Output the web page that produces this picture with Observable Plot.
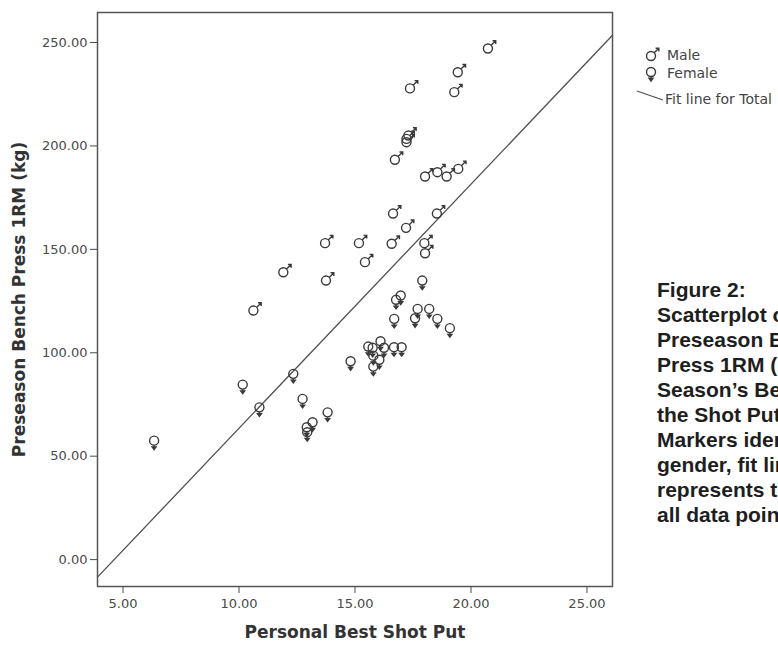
<!DOCTYPE html>
<html>
<head>
<meta charset="utf-8">
<script src="https://cdn.jsdelivr.net/npm/d3@7"></script>
<script src="https://cdn.jsdelivr.net/npm/@observablehq/plot@0.6"></script>
<style>
  html, body { margin: 0; padding: 0; background: #fff; }
  body { width: 778px; height: 645px; overflow: hidden; position: relative; }
  #chart { position: absolute; left: 0; top: 0; }
  #overlay { position: absolute; left: 0; top: 0; pointer-events: none; }
</style>
</head>
<body>
<div id="chart"></div>
<svg id="overlay" width="778" height="645"></svg>
<script>
// ---- data ----
const maleX = [20.73, 19.43, 19.28, 17.37, 17.30, 17.22, 17.22, 16.72, 18.02, 18.55, 18.95, 19.45,
               16.64, 18.53, 17.20, 13.71, 15.17, 16.58, 17.99, 18.02, 15.43, 11.91, 13.75, 10.62];
const maleY = [247.1, 235.6, 226.0, 227.8, 205.0, 203.4, 201.8, 193.3, 185.2, 187.3, 185.2, 188.9,
               167.3, 167.3, 160.4, 153.0, 153.0, 152.7, 153.0, 148.1, 143.8, 138.9, 134.9, 120.4];
const femaleX = [17.90, 16.77, 16.97, 16.69, 17.70, 17.59, 18.20, 18.55, 19.09, 15.57, 15.76, 16.10,
                 16.25, 16.68, 17.01, 15.79, 16.05, 15.79, 14.81, 10.16, 10.88, 12.34, 12.74, 13.82,
                 13.17, 12.92, 12.94, 6.34];
const femaleY = [134.9, 125.6, 127.7, 116.4, 121.2, 116.7, 121.2, 116.4, 111.9, 103.0, 102.4, 105.6,
                 102.4, 102.7, 102.7, 98.6, 96.6, 93.3, 95.9, 84.6, 73.6, 89.8, 77.7, 71.2,
                 66.4, 64.0, 61.6, 57.5];
const fitIntercept = -54.5;
const fitSlope = 11.8;
const xTicks = [5, 10, 15, 20, 25];
const yTicks = [0, 50, 100, 150, 200, 250];
const xDomain = [3.9, 26.1];
const yDomain = [-13, 264.5];
const xTitle = "Personal Best Shot Put";
const yTitle = "Preseason Bench Press 1RM (kg)";
const legendLabels = ["Male", "Female", "Fit line for Total"];
const captionLines = ["Figure 2:", "Scatterplot of", "Preseason Bench", "Press 1RM (kg) vs",
  "Season\u2019s Best in", "the Shot Put.", "Markers identify", "gender, fit line",
  "represents trend of", "all data points."];

// ---- symbols ----
const maleSymbol = {
  draw(ctx) {
    const r = 4.5, a = r * Math.SQRT1_2;
    ctx.moveTo(r, 0); ctx.arc(0, 0, r, 0, 2 * Math.PI);
    ctx.moveTo(a, -a); ctx.lineTo(7.6, -7.6);
    ctx.moveTo(4.6, -7.8); ctx.lineTo(7.8, -7.8); ctx.lineTo(7.8, -4.6);
  }
};
const femaleSymbol = {
  draw(ctx) {
    const r = 4.5;
    ctx.moveTo(r, 0); ctx.arc(0, 0, r, 0, 2 * Math.PI);
    ctx.moveTo(0, r); ctx.lineTo(0, r + 5);
    ctx.moveTo(-2, r + 1.8); ctx.lineTo(2, r + 1.8); ctx.lineTo(0, r + 4.5); ctx.closePath();
  }
};

const males = maleX.map((x, i) => ({x, y: maleY[i]}));
const females = femaleX.map((x, i) => ({x, y: femaleY[i]}));
const fitLine = xDomain.map(x => ({x, y: fitIntercept + fitSlope * x}));
const fmt = d3.format(".2f");

const chart = Plot.plot({
  width: 778, height: 645,
  marginLeft: 97, marginRight: 166, marginTop: 12, marginBottom: 59,
  style: {fontFamily: "DejaVu Sans", background: "white", color: "#4a4a4a"},
  x: {domain: xDomain},
  y: {domain: yDomain},
  marks: [
    Plot.axisX({ticks: xTicks, tickFormat: fmt, tickSize: 7, tickPadding: 5, fontSize: 13, label: null, color: "#4a4a4a"}),
    Plot.axisY({ticks: yTicks, tickFormat: fmt, tickSize: 7, tickPadding: 3, fontSize: 13, label: null, color: "#4a4a4a"}),
    Plot.text([xTitle], {frameAnchor: "bottom", dy: 46, lineAnchor: "middle", textAnchor: "middle", text: d => d, fontSize: 17, fontWeight: "bold", fill: "#333"}),
    Plot.text([yTitle], {frameAnchor: "left", dx: -78, rotate: -90, lineAnchor: "middle", textAnchor: "middle", text: d => d, fontSize: 17, fontWeight: "bold", fill: "#333"}),
    Plot.line(fitLine, {x: "x", y: "y", stroke: "#505050", strokeWidth: 1.3}),
    Plot.dot(females, {x: "x", y: "y", symbol: femaleSymbol, r: 5, fill: "none", stroke: "#3a3a3a", strokeWidth: 1.4}),
    Plot.dot(males, {x: "x", y: "y", symbol: maleSymbol, r: 5, fill: "none", stroke: "#3a3a3a", strokeWidth: 1.4}),
    Plot.frame({stroke: "#555", strokeWidth: 1.5})
  ]
});
document.getElementById("chart").appendChild(chart);

// ---- legend and caption ----
const ov = d3.select("#overlay");
const lg = ov.append("g").attr("font-family", "DejaVu Sans").attr("font-size", 14).attr("fill", "#444");
lg.append("path").attr("d", d3.symbol(maleSymbol)()).attr("transform", "translate(651,56)")
  .attr("fill", "none").attr("stroke", "#3a3a3a").attr("stroke-width", 1.4);
lg.append("text").attr("x", 667).attr("y", 60).text(legendLabels[0]);
lg.append("path").attr("d", d3.symbol(femaleSymbol)()).attr("transform", "translate(651,72)")
  .attr("fill", "none").attr("stroke", "#3a3a3a").attr("stroke-width", 1.4);
lg.append("text").attr("x", 667).attr("y", 78).text(legendLabels[1]);
lg.append("line").attr("x1", 637).attr("y1", 91).attr("x2", 663).attr("y2", 100)
  .attr("stroke", "#505050").attr("stroke-width", 1.3);
lg.append("text").attr("x", 665).attr("y", 104).text(legendLabels[2]);

const cap = ov.append("g").attr("font-family", "Liberation Sans, Arial, sans-serif")
  .attr("font-size", 21).attr("font-weight", "bold").attr("fill", "#1e1e1e");
captionLines.forEach((t, i) => {
  cap.append("text").attr("x", 657).attr("y", 297 + i * 25).text(t);
});
</script>
</body>
</html>
